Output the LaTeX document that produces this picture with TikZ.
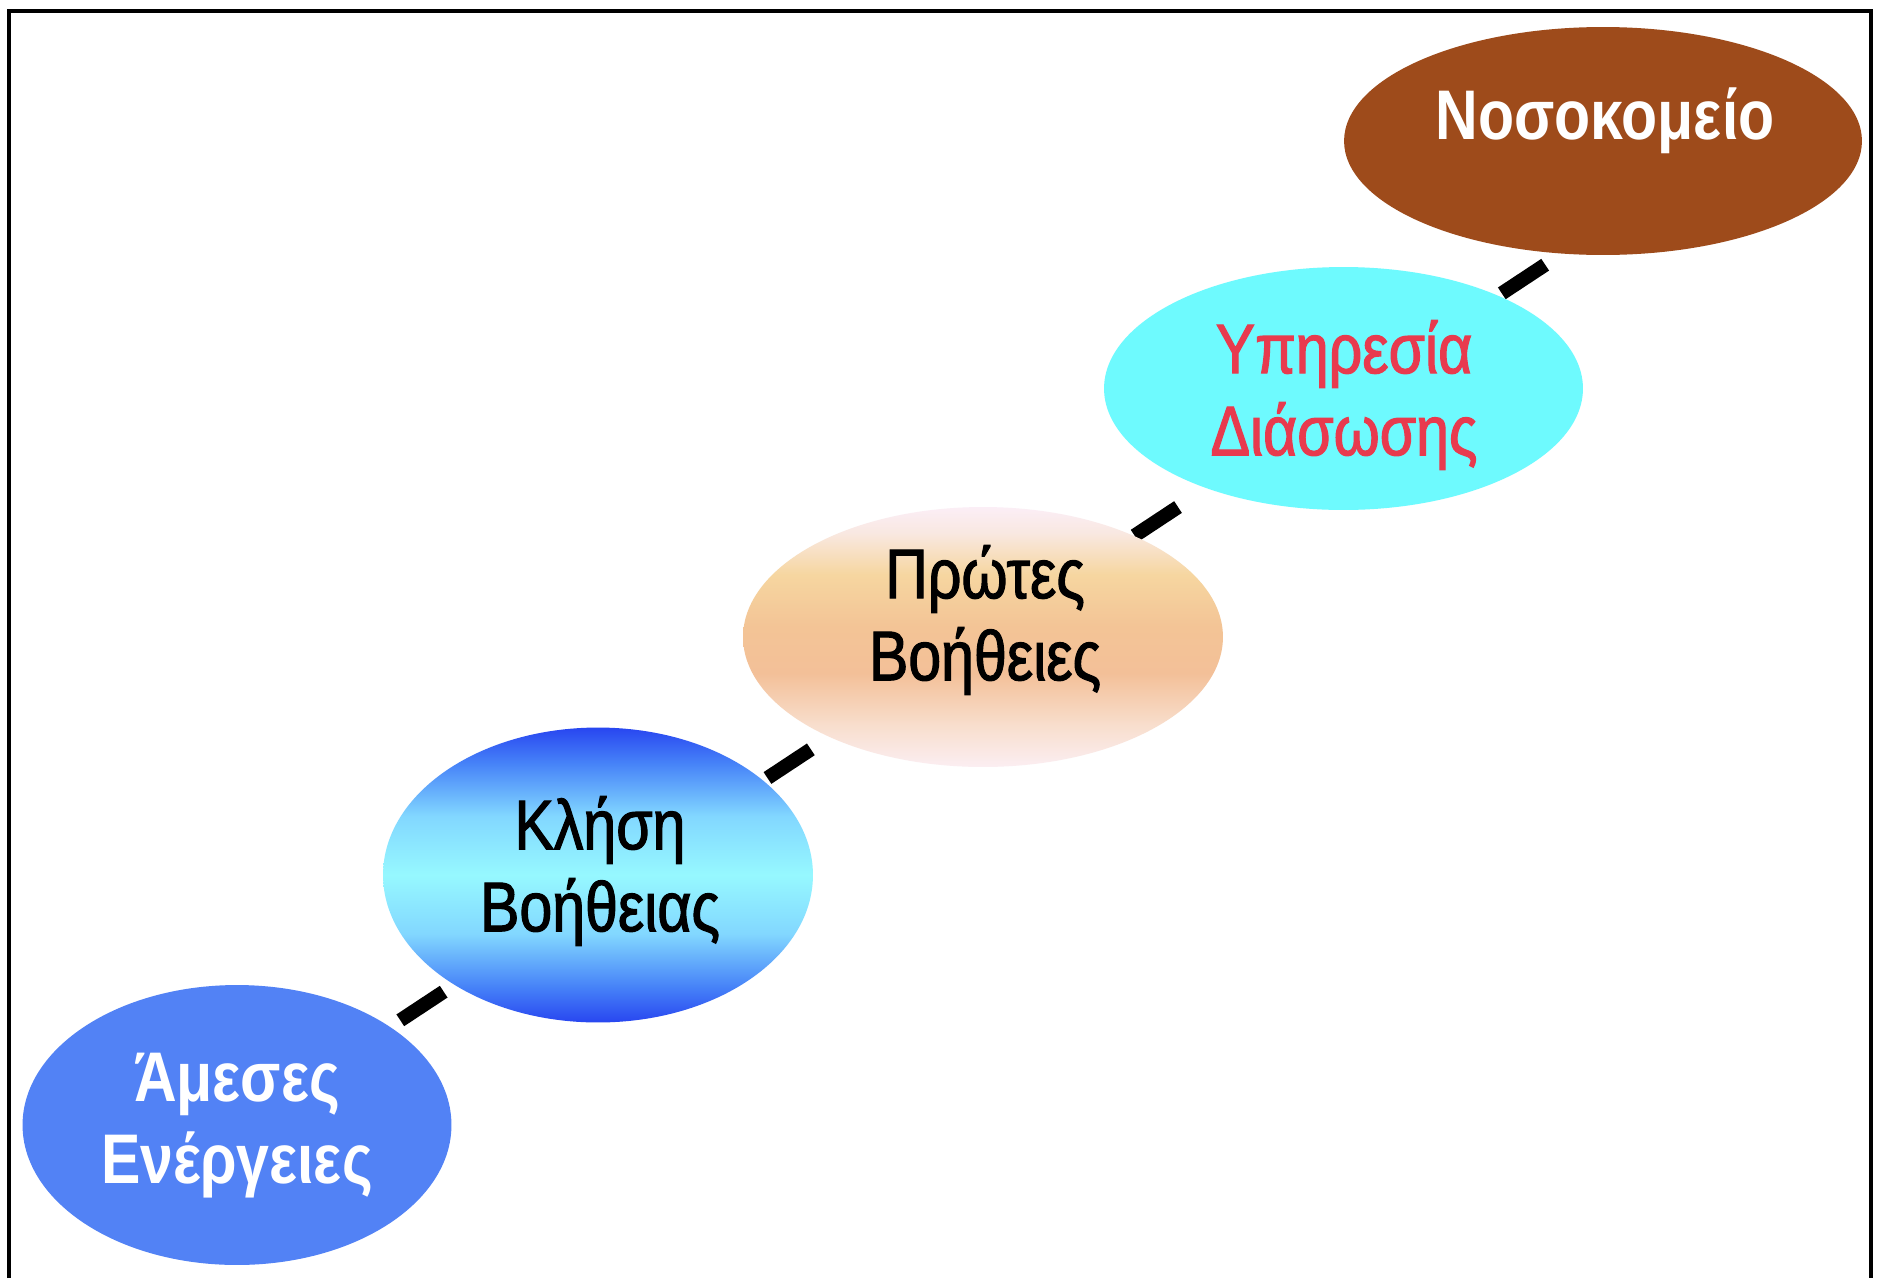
\documentclass[tikz,border=0pt]{standalone}
\usepackage{fontspec}
\setmainfont{Liberation Sans}[FakeStretch=0.84]
\newfontfamily\medfont{Liberation Sans}[FakeStretch=0.84, FakeBold=1.6]
\usetikzlibrary{shapes.geometric}
\definecolor{nosc}{RGB}{158,75,27}
\definecolor{ypc}{RGB}{110,250,254}
\definecolor{ypt}{RGB}{232,58,78}
\definecolor{amc}{RGB}{82,130,245}
\definecolor{pra}{RGB}{251,238,242}
\definecolor{prb}{RGB}{248,222,205}
\definecolor{prc}{RGB}{243,192,152}
\definecolor{prd}{RGB}{243,196,150}
\definecolor{pre}{RGB}{246,214,160}
\definecolor{prf}{RGB}{249,232,225}
\definecolor{prg}{RGB}{251,238,246}
\definecolor{kla}{RGB}{40,70,240}
\definecolor{klb}{RGB}{70,130,248}
\definecolor{klc}{RGB}{130,215,255}
\definecolor{kld}{RGB}{150,248,255}
\pgfdeclareverticalshading{protshade}{100bp}{color(0bp)=(pra); color(25bp)=(pra); color(33bp)=(prb); color(43bp)=(prc); color(52bp)=(prd); color(62bp)=(pre); color(70bp)=(prf); color(75bp)=(prg); color(100bp)=(prg)}
\pgfdeclareverticalshading{klshade}{100bp}{color(0bp)=(kla); color(25bp)=(kla); color(31bp)=(klb); color(40bp)=(klc); color(50bp)=(kld); color(60bp)=(klc); color(69bp)=(klb); color(75bp)=(kla); color(100bp)=(kla)}
\tikzset{
  oval/.style={ellipse, draw=none, inner sep=0pt},
  lbl/.style={align=center, inner sep=0pt, font=\fontsize{40}{46.7}\selectfont\medfont},
  lblb/.style={align=center, inner sep=0pt, font=\fontsize{40}{46.7}\selectfont\bfseries},
  dashline/.style={line width=8pt, dash pattern=on 1.04cm off 7.76cm},
  frame/.style={line width=2.2pt, black}
}
\begin{document}
\begin{tikzpicture}[x=0.02cm, y=-0.02cm]
\useasboundingbox (0,0) rectangle (1886,1278);
\fill[white] (0,0) rectangle (1886,1278);
\draw[frame] (9,1278) -- (9,11) -- (1871,11) -- (1871,1278);
% dashed line
\coordinate (d0) at (400.3,1020.3);
\coordinate (d1) at (1545.5,264.5);
\draw[dashline] (d0) -- (d1);
% ovals
\node[oval, fill=nosc, minimum width=10.36cm, minimum height=4.56cm] (nos) at (1603,141) {};
\node[oval, fill=ypc, minimum width=9.58cm, minimum height=4.86cm] (yp) at (1343.5,388.5) {};
\node[oval, shading=protshade, minimum width=9.6cm, minimum height=5.2cm] (pr) at (983,637) {};
\node[oval, shading=klshade, minimum width=8.6cm, minimum height=5.9cm] (kl) at (598,875) {};
\node[oval, fill=amc, minimum width=8.58cm, minimum height=5.6cm] (am) at (237,1125) {};
% labels
\node[lblb, text=white] (tnos) at (1605,121) {Νοσοκομείο};
\node[lbl, text=ypt] (typ) at (1344,395) {Υπηρεσία\\Διάσωσης};
\node[lbl, text=black] (tpr) at (985,620) {Πρώτες\\Βοήθειες};
\node[lbl, text=black] (tkl) at (600,871) {Κλήση\\Βοήθειας};
\node[lblb, text=white] (tam) at (237,1126) {Άμεσες\\Ενέργειες};
\end{tikzpicture}
\end{document}
